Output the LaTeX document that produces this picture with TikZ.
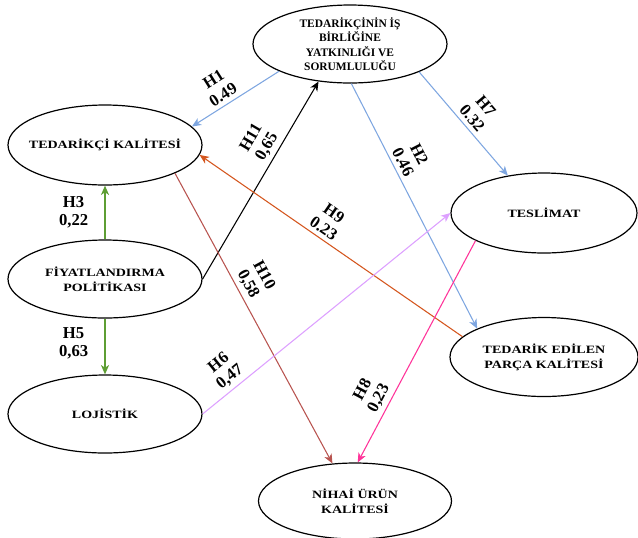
\documentclass[tikz,border=0pt]{standalone}
\usepackage{fontspec}
\setmainfont{Liberation Serif}
\newfontfamily\widefont[FakeStretch=1.25]{Liberation Serif}
\usetikzlibrary{shapes.geometric,arrows.meta}
\definecolor{hblue}{HTML}{7EA6E0}
\definecolor{hgreen}{HTML}{5E9E34}
\definecolor{hbrown}{HTML}{B85450}
\definecolor{horange}{HTML}{D4561E}
\definecolor{hviolet}{HTML}{DDA0FF}
\definecolor{hpink}{HTML}{FF3399}
\tikzset{
  oval/.style={draw, ellipse, line width=0.9pt, inner xsep=-10pt, inner ysep=0pt, align=center,
    font=\widefont\bfseries\fontsize{8.4}{11.25}\selectfont},
  lbl/.style={text=black, align=center, inner sep=3pt, font=\bfseries\fontsize{12.5}{13.5}\selectfont},
  conn/.style={line width=0.8pt, -{Stealth[length=7pt,width=6pt,inset=2pt]}},
}
\begin{document}
\begin{tikzpicture}[x=0.75pt,y=-0.75pt]
\useasboundingbox (0,0) rectangle (638,537);
\node[oval, inner xsep=0pt, font=\bfseries\fontsize{8.6}{10.9}\selectfont, minimum width=145.5pt, minimum height=58.5pt] (isbirligi) at (350,44) {TEDARİKÇİNİN İŞ\\BİRLİĞİNE\\YATKINLIĞI VE\\SORUMLULUĞU};
\node[oval, minimum width=145.5pt, minimum height=60pt] (kalite) at (105,145) {TEDARİKÇİ KALİTESİ};
\node[oval, minimum width=145.5pt, minimum height=58.5pt] (fiyat) at (105,279) {FİYATLANDIRMA\\POLİTİKASI};
\node[oval, minimum width=145.5pt, minimum height=58.5pt] (lojistik) at (105,414) {LOJİSTİK};
\node[oval, minimum width=139.5pt, minimum height=60pt] (teslimat) at (544,213) {TESLİMAT};
\node[oval, minimum width=141pt, minimum height=59.25pt] (parca) at (544,357) {TEDARİK EDİLEN\\PARÇA KALİTESİ};
\node[oval, minimum width=144.75pt, minimum height=57pt] (nihai) at (355,501) {NİHAİ ÜRÜN\\KALİTESİ};
\path[draw,conn,hblue] (isbirligi.201) -- node[lbl,pos=0.58,sloped,above] {H1\\0.49} (kalite.12);
\path[draw,conn,black] (fiyat.east) -- node[lbl,pos=0.64,sloped,above] {H11\\0,65} (isbirligi.230);
\path[draw,conn,hblue] (isbirligi.338) -- node[lbl,pos=0.51,sloped,above] {H7\\0.32} (teslimat.134);
\path[draw,conn,hblue] (isbirligi.272) -- node[lbl,pos=0.34,sloped,above] {H2\\0.46} (parca.157);
\path[draw,conn,horange] (parca.166) -- node[lbl,pos=0.55,sloped,above] {H9\\0.23} (kalite.354);
\path[draw,conn,hbrown] (kalite.338) -- node[lbl,pos=0.40,sloped,above] {H10\\0,58} (nihai.121);
\path[draw,conn,hviolet] (lojistik.east) -- node[lbl,pos=0.14,sloped,above] {H6\\0,47} (teslimat.west);
\path[draw,conn,hpink] (teslimat.202) -- node[lbl,pos=0.735,sloped,above] {H8\\0,23} (nihai.86);
\path[draw,conn,hgreen,line width=1.2pt] (fiyat.north) -- node[lbl,midway,left=9pt] {H3\\0,22} (kalite.south);
\path[draw,conn,hgreen,line width=1.2pt] (fiyat.south) -- node[lbl,pos=0.44,left=9pt] {H5\\0,63} (lojistik.north);
\end{tikzpicture}
\end{document}
